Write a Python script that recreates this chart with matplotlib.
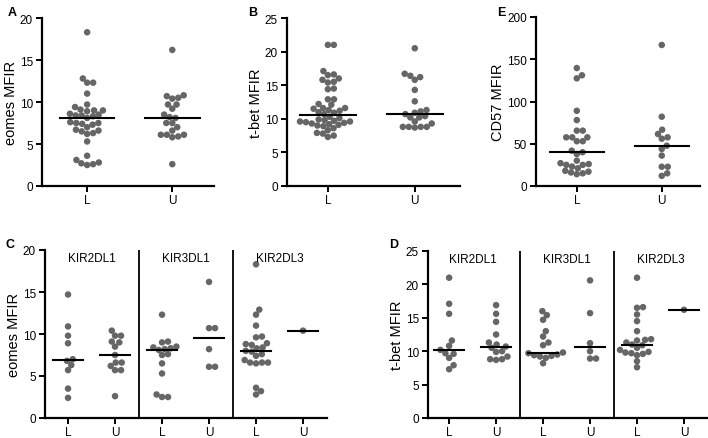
import numpy as np
import matplotlib
matplotlib.use("Agg")
import matplotlib.pyplot as plt

plt.rcParams['font.family'] = ['Liberation Sans', 'DejaVu Sans']

# ---- data ----
groups = ["L", "U"]

eomes_L = [18.3, 12.8, 12.3, 12.3, 11.0, 9.7, 9.4, 9.1, 9.0, 9.0, 8.9, 8.6, 8.5, 8.4, 8.4,
           8.3, 8.1, 7.6, 7.5, 7.5, 7.4, 7.3, 7.0, 6.7, 6.6, 6.5, 6.3, 6.2, 5.3, 3.6, 3.1,
           2.8, 2.7, 2.6, 2.5]
eomes_U = [16.2, 10.8, 10.7, 10.5, 10.4, 9.7, 9.7, 9.2, 8.5, 8.2, 8.1, 7.5, 7.5, 7.0, 6.6,
           6.1, 6.1, 6.1, 5.9, 5.8, 2.6]
eomes_med = [8.1, 8.1]

tbet_L = [21.0, 21.0, 17.1, 16.6, 16.5, 16.0, 15.8, 15.5, 15.4, 14.5, 14.4, 12.9, 12.9, 12.2,
          12.1, 11.6, 11.6, 11.5, 11.3, 11.2, 11.0, 10.9, 10.7, 10.3, 10.1, 9.9, 9.8, 9.7,
          9.6, 9.6, 9.5, 9.4, 9.3, 9.2, 9.1, 9.0, 8.9, 8.6, 8.3, 7.9, 7.8, 7.5, 7.3]
tbet_U = [20.5, 16.7, 16.4, 16.2, 15.8, 14.3, 12.6, 11.3, 11.1, 10.9, 10.7, 10.4, 10.2, 10.2,
          9.6, 9.3, 8.8, 8.8, 8.8, 8.8, 8.7]
tbet_med = [10.5, 10.7]

cd57_L = [139.6, 131, 127.4, 89, 78, 65.5, 65.5, 57.6, 57.6, 57.6, 53, 53, 41.8, 40, 37.9,
          30, 27, 26, 25, 25, 23, 21, 18, 17, 16, 15, 14]
cd57_U = [166.9, 82, 66.6, 61.5, 57.6, 56, 47.7, 43.8, 36, 22.8, 22.8, 15, 12]
cd57_med = [40, 47.7]

kir = ["KIR2DL1", "KIR3DL1", "KIR2DL3"]
kir_ticks = ["L", "U", "L", "U", "L", "U"]

eomes_kir = [
    [14.7, 10.9, 9.8, 8.9, 7.0, 6.8, 6.3, 5.7, 3.5, 2.4],
    [10.4, 9.8, 9.8, 9.1, 9.0, 8.5, 7.5, 6.6, 6.6, 6.2, 5.7, 5.7, 2.6],
    [12.3, 9.1, 9.0, 8.5, 8.4, 8.3, 8.2, 8.1, 7.6, 7.5, 6.5, 5.3, 2.8, 2.5, 2.5],
    [16.2, 10.7, 10.7, 8.2, 6.1, 6.1],
    [18.3, 12.9, 12.3, 11.0, 9.7, 9.6, 8.9, 8.8, 8.7, 8.4, 8.3, 8.0, 7.9, 7.6, 7.4, 6.9,
     6.6, 6.6, 6.5, 6.6, 3.6, 3.2, 2.8],
    [10.4],
]
eomes_kir_med = [6.9, 7.5, 8.1, 9.5, 8.0, 10.4]

tbet_kir = [
    [21.0, 17.1, 15.6, 11.6, 10.8, 10.2, 9.7, 9.6, 9.0, 7.9, 7.3],
    [16.9, 15.6, 14.4, 12.5, 11.3, 11.0, 10.7, 10.5, 10.0, 9.9, 9.2, 8.8, 8.7, 8.8],
    [16.0, 15.4, 14.7, 13.0, 12.2, 11.3, 10.9, 9.8, 9.7, 9.5, 9.4, 9.3, 9.2, 9.0, 8.2],
    [20.6, 15.7, 11.2, 10.0, 8.9, 8.9],
    [21.0, 16.6, 16.5, 15.5, 14.5, 13.0, 11.8, 11.7, 11.6, 11.3, 10.9, 11.0, 10.5, 10.2,
     9.9, 9.8, 9.7, 9.6, 9.4, 8.5, 7.6],
    [16.2],
]
tbet_kir_med = [10.2, 10.6, 9.8, 10.6, 10.9, 16.2]

DOT = "#666666"
W, H = 708, 439
fig = plt.figure(figsize=(W / 100, H / 100), dpi=100)


def make_ax(left, right, top, bottom):
    return fig.add_axes([left / W, 1 - bottom / H, (right - left) / W, (bottom - top) / H])


def style(ax, ymax, ystep, label, xlim, ticks, ticklabels):
    ax.set_ylim(0, ymax)
    ax.set_yticks(np.arange(0, ymax + 0.1, ystep))
    ax.set_xlim(*xlim)
    ax.set_xticks(ticks)
    ax.set_xticklabels(ticklabels)
    for s in ["top", "right"]:
        ax.spines[s].set_visible(False)
    for s in ["left", "bottom"]:
        ax.spines[s].set_linewidth(1.6)
    ax.tick_params(width=1.4, length=4, labelsize=8.5, pad=2.5)
    ax.tick_params(axis="x", labelsize=8.5, pad=1.5)
    ax.set_ylabel(label, fontsize=10.5, labelpad=1.5)


def swarm(ax, x0, vals, d=6.0):
    # beeswarm offsets computed in pixel space
    pts = ax.transData.transform(np.column_stack([np.full(len(vals), x0), vals]))
    ys = pts[:, 1]
    order = np.argsort(ys)
    placed = []
    offs = np.zeros(len(vals))
    for i in order:
        y = ys[i]
        cands = [0.0]
        for px, py in placed:
            dy = y - py
            if abs(dy) < d:
                dx = np.sqrt(d * d - dy * dy)
                cands += [px + dx, px - dx]
        cands.sort(key=abs)
        for c in cands:
            if all((c - px) ** 2 + (y - py) ** 2 >= d * d - 1e-6 for px, py in placed):
                break
        offs[i] = c
        placed.append((c, y))
    disp = np.column_stack([pts[:, 0] + offs, ys])
    return ax.transData.inverted().transform(disp)[:, 0]


def draw_group(ax, x0, vals, med):
    xs = swarm(ax, x0, vals)
    ax.scatter(xs, vals, s=22, color=DOT, edgecolors="none", zorder=3, clip_on=False)
    ax.plot([x0 - 0.32, x0 + 0.32], [med, med], color="black", lw=1.5, zorder=4)


# A
axA = make_ax(42, 214, 19, 187)
style(axA, 20, 5, "eomes MFIR", (-0.53, 1.49), [0, 1], groups)
for i, (v, m) in enumerate(zip([eomes_L, eomes_U], eomes_med)):
    draw_group(axA, i, v, m)

# B
axB = make_ax(287, 460, 19, 187)
style(axB, 25, 5, "t-bet MFIR", (-0.47, 1.52), [0, 1], groups)
for i, (v, m) in enumerate(zip([tbet_L, tbet_U], tbet_med)):
    draw_group(axB, i, v, m)

# E
axE = make_ax(536, 700, 18, 187)
style(axE, 200, 50, "CD57 MFIR", (-0.48, 1.45), [0, 1], groups)
for i, (v, m) in enumerate(zip([cd57_L, cd57_U], cd57_med)):
    draw_group(axE, i, v, m)

# C
axC = make_ax(45, 327, 251, 419)
style(axC, 20, 5, "eomes MFIR", (-0.49, 5.51), range(6), kir_ticks)
for i, (v, m) in enumerate(zip(eomes_kir, eomes_kir_med)):
    draw_group(axC, i, v, m)

# D
axD = make_ax(428, 707, 252, 419)
style(axD, 25, 5, "t-bet MFIR", (-0.45, 5.49), range(6), kir_ticks)
for i, (v, m) in enumerate(zip(tbet_kir, tbet_kir_med)):
    draw_group(axD, i, v, m)

for ax, ymax in [(axC, 20), (axD, 25)]:
    for xv in [1.5, 3.5]:
        ax.axvline(xv, color="black", lw=1.3)
    for j, name in enumerate(kir):
        ax.text(2 * j + 0.5, ymax * 0.95, name, ha="center", va="center", fontsize=8.5)

for lab, x, y in [("A", 8, 13), ("B", 248, 13), ("E", 497, 13), ("C", 6, 245), ("D", 389, 245)]:
    fig.text(x / W, 1 - y / H, lab, fontsize=9, fontweight="bold", va="center", ha="left")

fig.savefig("out.png", dpi=100)
